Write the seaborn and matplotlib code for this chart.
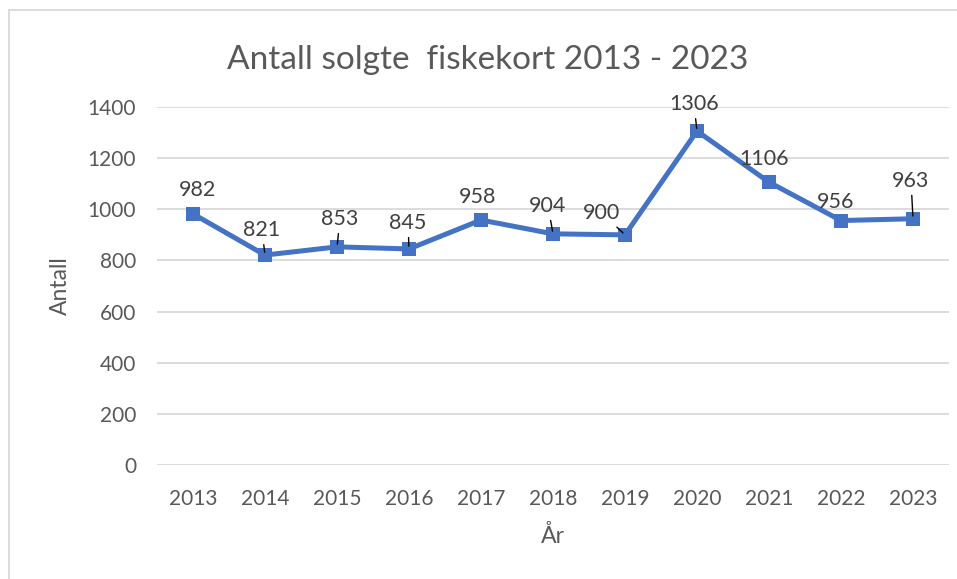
import numpy as np
import pandas as pd
import seaborn as sns
import matplotlib.pyplot as plt
from matplotlib.patches import Rectangle

# Data
years = [2013, 2014, 2015, 2016, 2017, 2018, 2019, 2020, 2021, 2022, 2023]
sold = [982, 821, 853, 845, 958, 904, 900, 1306, 1106, 956, 963]

df = pd.DataFrame({'År': years, 'Antall': sold})

# label offsets in pixels (dx, dy) and whether a leader line is drawn
offsets = [(5, 24), (-3, 25), (3, 28), (-1, 26), (-3, 23), (-5, 28),
           (-23, 22), (-3, 27), (-5, 23), (-5, 19), (-2, 38)]
leaders = [False, True, True, True, False, True, True, True, False, False, True]

sns.set_theme(style="white")
plt.rcParams['font.family'] = ['Lato', 'DejaVu Sans']

blue = '#4472C4'
grey = '#595959'

fig = plt.figure(figsize=(9.57, 5.79), dpi=100)
ax = fig.add_axes([157/957, 1 - 465/579, (949 - 157)/957, (465 - 107)/579])

sns.lineplot(data=df, x='År', y='Antall', ax=ax, color=blue, linewidth=3.6,
             marker='s', markersize=10, markeredgewidth=0, markerfacecolor=blue)

px = 72 / 100  # pixels -> points
for x, y, (dx, dy), lead in zip(years, sold, offsets, leaders):
    ax.annotate(str(y), xy=(x, y), xytext=(dx * px, dy * px), textcoords='offset points',
                ha='center', va='center', fontsize=15.5, color='#404040',
                arrowprops=dict(arrowstyle='-', color='black', lw=1, shrinkA=1, shrinkB=2)
                if lead else None)

ax.set_xlim(2012.5, 2023.5)
ax.set_ylim(0, 1400)
ax.set_xticks(years)
ax.set_yticks(range(0, 1401, 200))
ax.yaxis.grid(True, color='#D9D9D9', linewidth=1.3)
ax.set_axisbelow(True)
for s in ax.spines.values():
    s.set_visible(False)
ax.tick_params(axis='both', length=0, labelsize=15, labelcolor=grey)
ax.tick_params(axis='y', pad=15)
ax.tick_params(axis='x', pad=17)

ax.set_xlabel('År', fontsize=16.5, color=grey, labelpad=12)
ax.set_ylabel('Antall', fontsize=16.5, color=grey, labelpad=12)
ax.set_title('Antall solgte  fiskekort 2013 - 2023', fontsize=24, color=grey, pad=27,
             x=(488 - 157) / (949 - 157))

# chart area border (left and top visible)
fig.patches.append(Rectangle((9/957, -0.1), 1.1, 1 - 10/579 + 0.1, transform=fig.transFigure,
                             fill=False, edgecolor='#D9D9D9', linewidth=1.3))

fig.savefig('out.png', dpi=100)
